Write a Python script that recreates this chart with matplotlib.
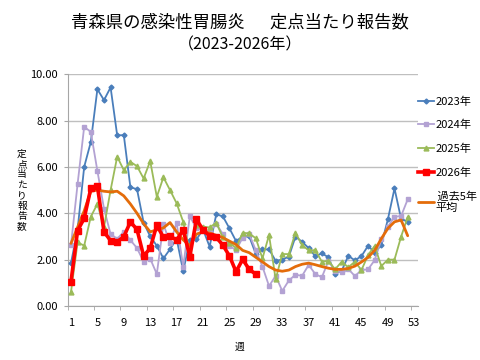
import numpy as np
import matplotlib
matplotlib.use("Agg")
import matplotlib.pyplot as plt

plt.rcParams['font.family'] = ['Noto Sans CJK JP', 'DejaVu Sans']

weeks = list(range(1, 53))
weeks_2026 = list(range(1, 30))

y2023 = [1.85, 3.3, 6.0, 7.07, 9.35, 8.88, 9.43, 7.36, 7.37, 5.12, 5.04, 3.6,
         3.0, 2.6, 2.05, 2.45, 2.9, 1.5, 2.85, 2.87, 3.3, 2.56, 3.95, 3.87,
         3.35, 2.8, 3.0, 3.0, 2.24, 2.44, 2.44, 1.95, 2.0, 2.13, 2.99, 2.77,
         2.5, 2.15, 2.27, 2.1, 1.38, 1.52, 2.16, 1.97, 2.15, 2.6, 2.3, 2.63,
         3.74, 5.07, 3.76, 3.63]
y2024 = [2.63, 5.26, 7.73, 7.51, 5.83, 4.2, 3.1, 2.9, 3.2, 2.84, 2.5, 1.91,
         2.04, 1.38, 3.53, 2.7, 3.59, 1.7, 3.87, 3.35, 3.3, 3.2, 3.55, 3.1,
         2.6, 2.4, 2.95, 3.1, 2.4, 1.7, 0.86, 1.3, 0.65, 1.1, 1.35, 1.3,
         1.77, 1.38, 1.24, 1.95, 1.5, 1.45, 1.6, 1.29, 1.55, 1.58, 1.98, 2.87,
         3.42, 3.85, 3.88, 4.6]
y2025 = [0.6, 2.75, 2.6, 3.85, 4.4, 3.4, 5.0, 6.44, 5.86, 6.22, 6.03, 5.5,
         6.25, 4.71, 5.55, 5.0, 4.43, 3.63, 2.3, 3.49, 3.42, 3.39, 3.59, 2.96,
         2.73, 2.5, 3.16, 3.13, 2.92, 2.05, 3.06, 1.15, 2.24, 2.24, 3.16, 2.63,
         2.4, 2.41, 1.91, 1.95, 1.58, 1.91, 1.67, 1.91, 1.55, 2.2, 2.59, 1.72,
         2.0, 2.0, 2.99, 3.84]
y2026 = [1.05, 3.25, 3.78, 5.07, 5.17, 3.2, 2.82, 2.77, 2.99, 3.63, 3.3, 2.16,
         2.49, 3.49, 2.96, 3.02, 2.84, 3.28, 2.13, 3.74, 3.28, 3.02, 2.96, 2.63,
         2.16, 1.48, 2.01, 1.58, 1.37]
avg5 = [2.7, 3.4, 4.1, 4.95, 5.0, 4.95, 4.92, 4.95, 4.75, 4.4, 4.0, 3.55,
        3.2, 3.28, 3.37, 3.6, 3.2, 2.85, 2.6, 3.1, 3.2, 3.15, 3.05, 2.95,
        2.8, 2.65, 2.4, 2.3, 2.1, 1.9, 1.7, 1.55, 1.5, 1.55, 1.7, 1.8,
        1.85, 1.78, 1.7, 1.63, 1.58, 1.58, 1.62, 1.72, 1.9, 2.1, 2.4, 2.9,
        3.35, 3.63, 3.71, 3.03]

labels = ['2023年', '2024年', '2025年', '2026年', ' 過去5年\n平均']


def main():
    fig = plt.figure(figsize=(4.8, 3.6), dpi=100)
    ax = fig.add_axes([0.141, 0.15, 0.729, 0.644])

    ax.plot(weeks, y2023, color='#4A7EBB', lw=1.3, marker='D', ms=2.5,
            label=labels[0], zorder=3)
    ax.plot(weeks, y2024, color='#B3A2D3', lw=1.3, marker='s', ms=3.5,
            label=labels[1], zorder=3)
    ax.plot(weeks, y2025, color='#9BBB59', lw=1.3, marker='^', ms=3.5,
            label=labels[2], zorder=3)
    ax.plot(weeks_2026, y2026, color='#FF0000', lw=2.6, marker='s', ms=5,
            label=labels[3], zorder=5)
    ax.plot(weeks, avg5, color='#E46C0A', lw=2.0, solid_joinstyle='round',
            solid_capstyle='round', label=labels[4], zorder=4)

    ax.set_xlim(0.5, 53.5)
    ax.set_ylim(0, 10)
    ax.set_yticks(np.arange(0, 10.1, 2))
    ax.set_yticklabels(['%.2f' % v for v in np.arange(0, 10.1, 2)])
    ax.set_xticks(range(1, 54, 4))
    ax.set_xticks(np.arange(0.5, 53, 4), minor=True)
    ax.tick_params(axis='x', which='major', length=0, pad=9, labelsize=8)
    ax.tick_params(axis='x', which='minor', length=3, color='#A6A6A6')
    ax.tick_params(axis='y', length=3, color='#A6A6A6', labelsize=8, pad=4)
    ax.grid(axis='y', color='#BFBFBF', lw=1)
    ax.set_axisbelow(True)
    for s in ['top', 'right']:
        ax.spines[s].set_visible(False)
    for s in ['left', 'bottom']:
        ax.spines[s].set_color('#A6A6A6')

    fig.text(0.5, 1 - 22 / 360, '青森県の感染性胃腸炎　  定点当たり報告数',
             ha='center', va='center', fontsize=12.5)
    fig.text(0.5, 1 - 45 / 360, '（2023-2026年）', ha='center', va='center',
             fontsize=11.5)
    fig.text(22 / 480, 1 - 190 / 360, '\n'.join('定点当たり報告数'),
             ha='center', va='center', fontsize=7, linespacing=1.05)
    fig.text(240 / 480, 1 - 347 / 360, '週', ha='center', va='center',
             fontsize=7)

    fig.legend(loc='upper left', bbox_to_anchor=(0.862, 0.745),
               frameon=False, fontsize=8, labelspacing=1.2,
               handlelength=1.4, handletextpad=0.15, borderaxespad=0)

    fig.savefig('out.png', dpi=100)


if __name__ == "__main__": main()
